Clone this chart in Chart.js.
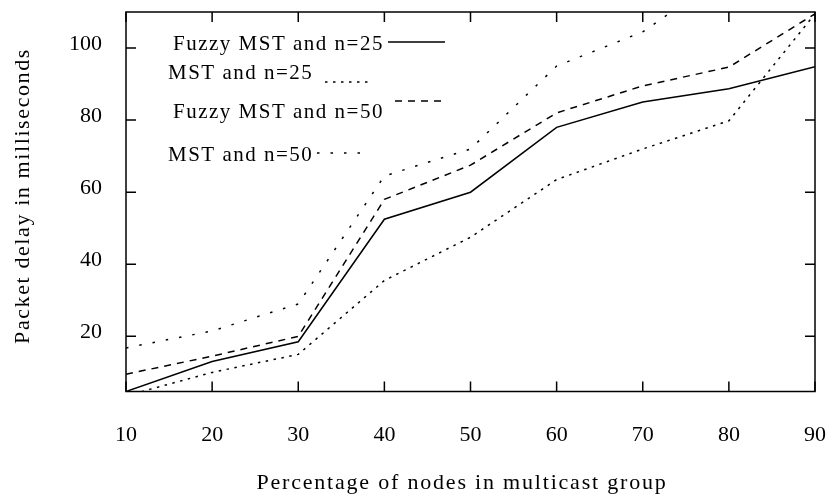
<!DOCTYPE html>
<html>
<head>
<meta charset="utf-8">
<script src="https://cdn.jsdelivr.net/npm/chart.js@4.4.1/dist/chart.umd.min.js"></script>
<style>
  html, body { margin: 0; padding: 0; background: #fff; }
  #wrap { width: 832px; height: 500px; }
</style>
</head>
<body>
<div id="wrap"><canvas id="delay-chart" width="832" height="500"></canvas></div>
<script>
    // values
    const groupPercent = [10, 20, 30, 40, 50, 60, 70, 80, 90];
    const fuzzyMst25 = [4.7, 13, 18.5, 52.5, 60, 78, 85, 88.7, 94.8];
    const mst25 = [3.5, 10, 15, 35.5, 47.5, 63.5, 72, 79.8, 109.5];
    const fuzzyMst50 = [9.5, 14.5, 20, 58, 67.5, 82, 89.5, 94.7, 109.5];
    const mst50 = [16.8, 21.5, 29, 64.5, 72, 95, 104.5, 121, 135];

    const xTicks = [10, 20, 30, 40, 50, 60, 70, 80, 90];
    const yTicks = [20, 40, 60, 80, 100];

    const xTitle = 'Percentage of nodes in multicast group';
    const yTitle = 'Packet delay in milliseconds';

    const serif = '"Liberation Serif", "Times New Roman", serif';

    function toPoints(values) {
        return values.map((v, i) => ({x: groupPercent[i], y: v}));
    }

    // where each legend row sits, like the gnuplot key in the picture
    const keyRows = [
        {tx: 173, ty: 44, x1: 388, x2: 445, ly: 42},
        {tx: 168, ty: 73, x1: 325, x2: 373, ly: 82},
        {tx: 173, ty: 112, x1: 395, x2: 445, ly: 101},
        {tx: 168, ty: 155, x1: 317, x2: 368, ly: 153}
    ];

    // box round the plot with inward ticks on all four sides, key and axis titles
    const framePlugin = {
        id: 'frame',
        afterDatasetsDraw(chart) {
            const ctx = chart.ctx;
            const area = chart.chartArea;
            const xs = chart.scales.x;
            const ys = chart.scales.y;
            ctx.save();
            ctx.strokeStyle = '#000';
            ctx.lineWidth = 1.5;
            ctx.setLineDash([]);
            ctx.strokeRect(area.left, area.top, area.right - area.left, area.bottom - area.top);
            ctx.beginPath();
            xTicks.forEach(t => {
                const px = xs.getPixelForValue(t);
                ctx.moveTo(px, area.bottom);
                ctx.lineTo(px, area.bottom - 10);
                ctx.moveTo(px, area.top);
                ctx.lineTo(px, area.top + 10);
            });
            yTicks.forEach(t => {
                const py = ys.getPixelForValue(t);
                ctx.moveTo(area.left, py);
                ctx.lineTo(area.left + 10, py);
                ctx.moveTo(area.right, py);
                ctx.lineTo(area.right - 10, py);
            });
            ctx.stroke();

            // key
            ctx.font = '21px ' + serif;
            ctx.letterSpacing = '1.5px';
            ctx.fillStyle = '#000';
            ctx.textBaseline = 'middle';
            ctx.textAlign = 'left';
            chart.data.datasets.forEach((ds, i) => {
                const row = keyRows[i];
                ctx.fillText(ds.label, row.tx, row.ty);
                ctx.beginPath();
                ctx.lineWidth = ds.borderWidth;
                ctx.setLineDash(ds.borderDash || []);
                ctx.moveTo(row.x1, row.ly);
                ctx.lineTo(row.x2, row.ly);
                ctx.stroke();
            });

            // axis titles
            ctx.font = '22px ' + serif;
            ctx.letterSpacing = '1.8px';
            ctx.textAlign = 'center';
            ctx.fillText(xTitle, 462, 483);
            ctx.translate(23, 196);
            ctx.rotate(-Math.PI / 2);
            ctx.letterSpacing = '1.6px';
            ctx.fillText(yTitle, 0, 0);
            ctx.restore();
        }
    };

    const lineData = {
        datasets: [
            {
                label: 'Fuzzy MST and n=25',
                data: toPoints(fuzzyMst25),
                borderColor: '#000',
                borderWidth: 1.5,
                borderDash: []
            },
            {
                label: 'MST and n=25',
                data: toPoints(mst25),
                borderColor: '#000',
                borderWidth: 1.5,
                borderDash: [2.5, 5.5]
            },
            {
                label: 'Fuzzy MST and n=50',
                data: toPoints(fuzzyMst50),
                borderColor: '#000',
                borderWidth: 1.5,
                borderDash: [7, 6]
            },
            {
                label: 'MST and n=50',
                data: toPoints(mst50),
                borderColor: '#000',
                borderWidth: 1.5,
                borderDash: [2.5, 11]
            }
        ]
    };

    const lineConfig = {
        type: 'line',
        data: lineData,
        options: {
            responsive: false,
            animation: false,
            pointRadius: 0,
            tension: 0,
            layout: {
                padding: {top: 12, right: 17, left: 0, bottom: 0}
            },
            plugins: {
                legend: {display: false},
                tooltip: {enabled: false}
            },
            scales: {
                x: {
                    type: 'linear',
                    min: 10,
                    max: 90,
                    afterBuildTicks: scale => {
                        scale.ticks = xTicks.map(v => ({value: v}));
                    },
                    afterFit: scale => {
                        scale.height = 108.5;
                        scale.paddingLeft = 0;
                        scale.paddingRight = 0;
                        scale.paddingTop = 0;
                        scale.paddingBottom = 0;
                    },
                    grid: {display: false, drawTicks: false},
                    border: {display: false},
                    ticks: {
                        color: '#000',
                        padding: 31,
                        maxRotation: 0,
                        font: {family: serif, size: 22}
                    }
                },
                y: {
                    min: 4.7,
                    max: 110,
                    afterBuildTicks: scale => {
                        scale.ticks = yTicks.map(v => ({value: v}));
                    },
                    afterFit: scale => {
                        scale.width = 126;
                        scale.paddingLeft = 0;
                        scale.paddingRight = 0;
                        scale.paddingTop = 0;
                        scale.paddingBottom = 0;
                    },
                    grid: {display: false, drawTicks: false},
                    border: {display: false},
                    ticks: {
                        color: '#000',
                        padding: 24,
                        labelOffset: -4,
                        font: {family: serif, size: 22}
                    }
                }
            }
        },
        plugins: [framePlugin]
    };

    new Chart(document.getElementById('delay-chart').getContext('2d'), lineConfig);
</script>
</body>
</html>
